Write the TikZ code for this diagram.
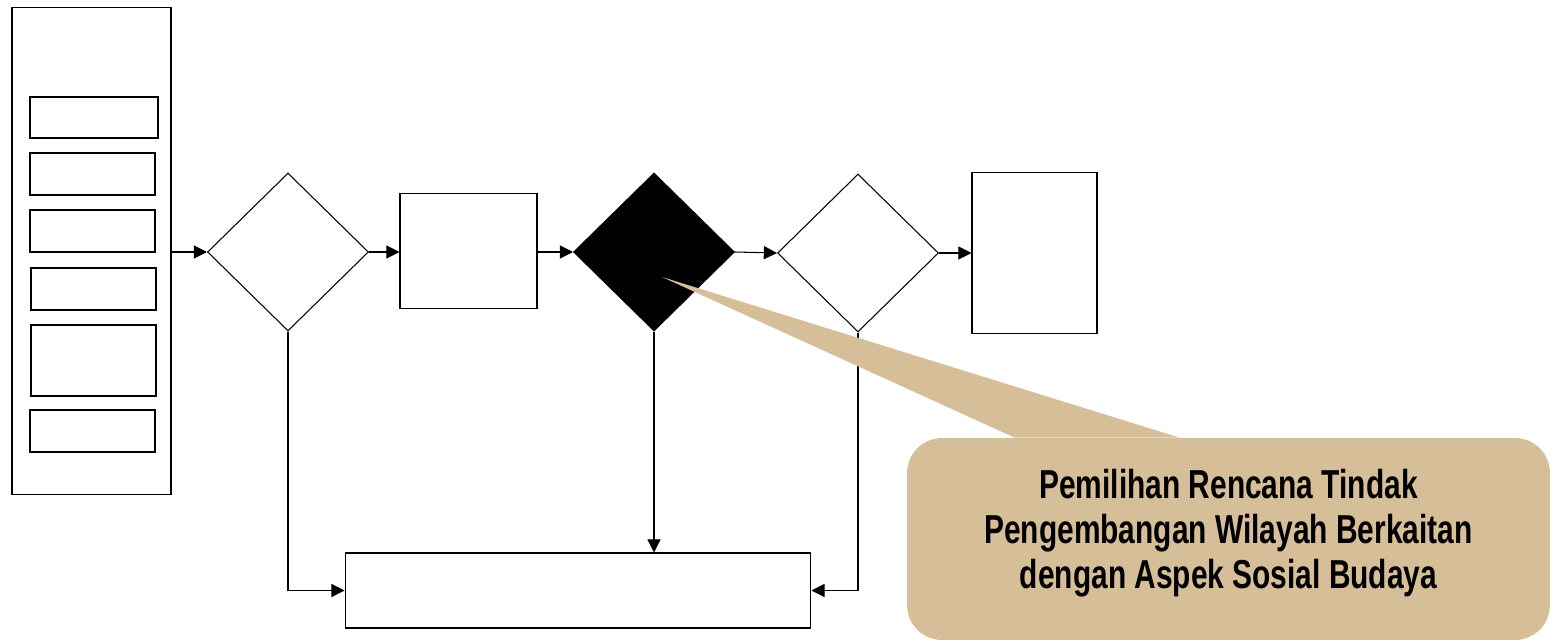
\documentclass[tikz,border=0pt]{standalone}
\usepackage{fontspec}
\usepackage{tikz}
\usepackage{xcolor}
\usetikzlibrary{shapes.geometric, arrows.meta, positioning, calc}
\newfontfamily\notefont[FakeStretch=0.74]{Liberation Sans}
\definecolor{NoteTan}{HTML}{D5BE98}
\definecolor{LineBlack}{HTML}{000000}
\tikzset{
    box/.style={
        draw=LineBlack,
        fill=white,
        line width=0.6pt,
        inner sep=0pt
    },
    decision/.style={
        diamond,
        draw=LineBlack,
        fill=#1,
        line width=0.6pt,
        minimum width=3.22cm,
        minimum height=3.16cm,
        inner sep=0pt
    },
    decision/.default=white,
    arrow/.style={
        -{Triangle[length=7.5pt,width=7.5pt]},
        line width=0.6pt,
        LineBlack
    },
    callout/.style={
        fill=NoteTan,
        rounded corners=0.7cm,
        minimum width=12.86cm,
        minimum height=4.04cm,
        text=black,
        font=\notefont\bfseries\fontsize{23}{25.5}\selectfont,
        align=center
    }
}
\begin{document}
\begin{tikzpicture}[x=0.02cm, y=-0.02cm]
        \useasboundingbox (0,0) rectangle (1552,642);

        % Left column with its inner boxes
        \node[box, minimum width=3.18cm, minimum height=9.76cm] (col) at (91.5,251) {};
        \node[box, minimum width=2.56cm, minimum height=0.82cm] (c1) at (94,117.5) {};
        \node[box, minimum width=2.5cm, minimum height=0.84cm] (c2) at (92.5,174) {};
        \node[box, minimum width=2.5cm, minimum height=0.84cm] (c3) at (92.5,231) {};
        \node[box, minimum width=2.5cm, minimum height=0.84cm] (c4) at (93.5,289) {};
        \node[box, minimum width=2.5cm, minimum height=1.42cm] (c5) at (93.5,360.5) {};
        \node[box, minimum width=2.5cm, minimum height=0.84cm] (c6) at (92.5,431) {};

        % Main flow
        \node[decision] (d1) at (288,252) {};
        \node[box, minimum width=2.74cm, minimum height=2.3cm] (b2) at (468.5,251) {};
        \node[decision=black] (d2) at (654,252) {};
        \node[decision] (d3) at (858,253) {};
        \node[box, minimum width=2.5cm, minimum height=3.22cm] (b4) at (1034.5,253) {};

        % Output box
        \node[box, minimum width=9.32cm, minimum height=1.5cm] (out) at (578,590.5) {};

        % Arrows along the flow
        \draw[arrow] (col.east |- d1.west) -- (d1.west);
        \draw[arrow] (d1.east) -- (b2.west |- d1.east);
        \draw[arrow] (b2.east |- d2.west) -- (d2.west);
        \draw[arrow] (d2.east) -- (d3.west);
        \draw[arrow] (d3.east) -- (b4.west |- d3.east);

        % Arrows into the output box
        \draw[arrow] (d1.south) |- (out.west);
        \draw[arrow] (d2.south) -- (out.north -| d2.south);
        \draw[arrow] (d3.south) |- (out.east);

        % Callout
        \coordinate (tip) at (662,277);
        \node[callout] (note) at (1228.5,539) {Pemilihan Rencana Tindak\\Pengembangan Wilayah Berkaitan\\dengan Aspek Sosial Budaya\\[-14pt]};
        \fill[NoteTan] (tip) -- ($(note.north west)+(108,0)$) -- ($(note.north west)+(273,0)$) -- cycle;
    \end{tikzpicture}
\end{document}
